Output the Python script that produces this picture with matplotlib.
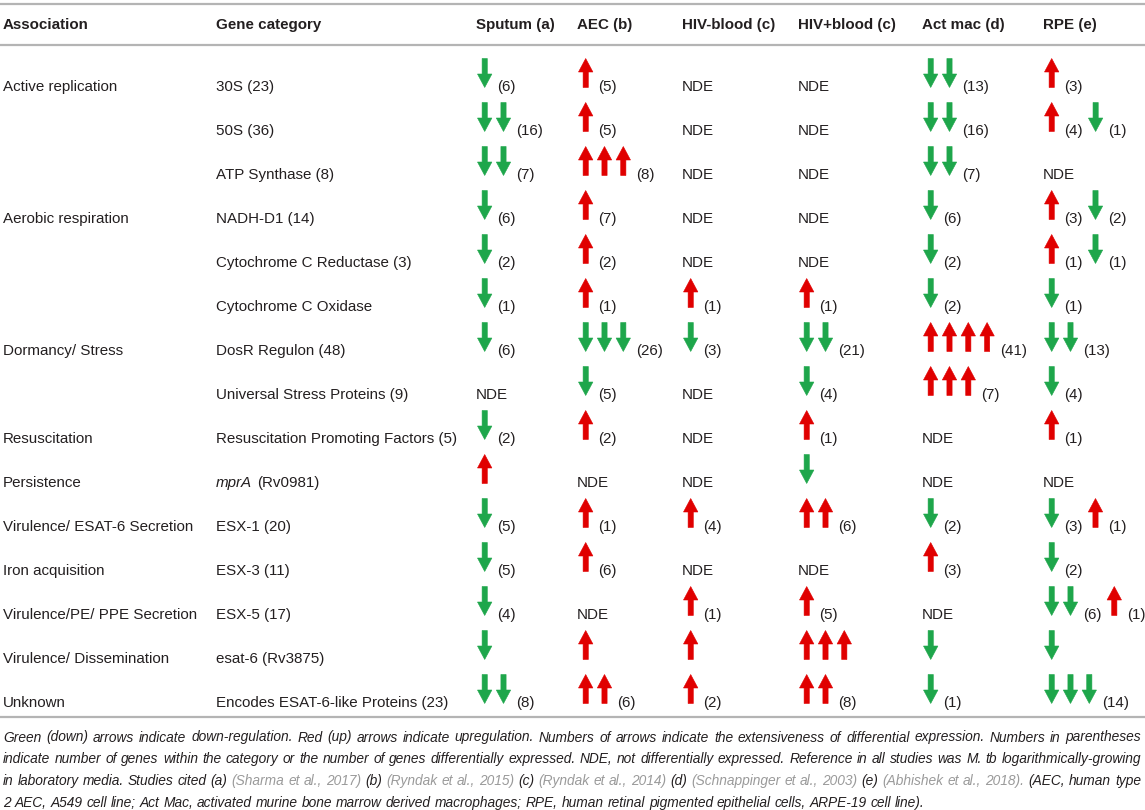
import matplotlib
matplotlib.use("Agg")
import matplotlib.pyplot as plt
from matplotlib.patches import Polygon
from matplotlib import font_manager

# ---------------- data ----------------
headers = ["Association", "Gene category", "Sputum (a)", "AEC (b)", "HIV-blood (c)",
           "HIV+blood (c)", "Act mac (d)", "RPE (e)"]

associations = ["Active replication", "", "", "Aerobic respiration", "", "",
                "Dormancy/ Stress", "", "Resuscitation", "Persistence",
                "Virulence/ ESAT-6 Secretion", "Iron acquisition",
                "Virulence/PE/ PPE Secretion", "Virulence/ Dissemination", "Unknown"]

gene_categories = ["30S (23)", "50S (36)", "ATP Synthase (8)", "NADH-D1 (14)",
                   "Cytochrome C Reductase (3)", "Cytochrome C Oxidase", "DosR Regulon (48)",
                   "Universal Stress Proteins (9)", "Resuscitation Promoting Factors (5)",
                   "mprA (Rv0981)", "ESX-1 (20)", "ESX-3 (11)", "ESX-5 (17)",
                   "esat-6 (Rv3875)", "Encodes ESAT-6-like Proteins (23)"]
gene_italic_part = ["", "", "", "", "", "", "", "", "", "mprA", "", "", "", "", ""]

# U = up (red), D = down (green); digit = number of arrows; (n) = genes
sputum = ["D1 (6)", "D2 (16)", "D2 (7)", "D1 (6)", "D1 (2)", "D1 (1)", "D1 (6)", "NDE",
          "D1 (2)", "U1", "D1 (5)", "D1 (5)", "D1 (4)", "D1", "D2 (8)"]
aec = ["U1 (5)", "U1 (5)", "U3 (8)", "U1 (7)", "U1 (2)", "U1 (1)", "D3 (26)", "D1 (5)",
       "U1 (2)", "NDE", "U1 (1)", "U1 (6)", "NDE", "U1", "U2 (6)"]
hiv_neg_blood = ["NDE", "NDE", "NDE", "NDE", "NDE", "U1 (1)", "D1 (3)", "NDE", "NDE", "NDE",
                 "U1 (4)", "NDE", "U1 (1)", "U1", "U1 (2)"]
hiv_pos_blood = ["NDE", "NDE", "NDE", "NDE", "NDE", "U1 (1)", "D2 (21)", "D1 (4)", "U1 (1)",
                 "D1", "U2 (6)", "NDE", "U1 (5)", "U3", "U2 (8)"]
act_mac = ["D2 (13)", "D2 (16)", "D2 (7)", "D1 (6)", "D1 (2)", "D1 (2)", "U4 (41)", "U3 (7)",
           "NDE", "NDE", "D1 (2)", "U1 (3)", "NDE", "D1", "D1 (1)"]
rpe = ["U1 (3)", "U1 (4) D1 (1)", "NDE", "U1 (3) D1 (2)", "U1 (1) D1 (1)", "D1 (1)",
       "D2 (13)", "D1 (4)", "U1 (1)", "NDE", "D1 (3) U1 (1)", "D1 (2)", "D2 (6) U1 (1)",
       "D1", "D3 (14)"]
columns = [sputum, aec, hiv_neg_blood, hiv_pos_blood, act_mac, rpe]

footnote_lines = [
    [("Green (down) arrows indicate down-regulation. Red (up) arrows indicate upregulation. "
      "Numbers of arrows indicate the extensiveness of differential expression. Numbers in parentheses", "d")],
    [("indicate number of genes within the category or the number of genes differentially expressed. "
      "NDE, not differentially expressed. Reference in all studies was M. tb logarithmically-growing", "d")],
    [("in laboratory media. Studies cited (a)", "d"), ("(Sharma et al., 2017)", "l"), ("(b)", "d"),
     ("(Ryndak et al., 2015)", "l"), ("(c)", "d"), ("(Ryndak et al., 2014)", "l"), ("(d)", "d"),
     ("(Schnappinger et al., 2003)", "l"), ("(e)", "d"), ("(Abhishek et al., 2018).", "l"),
     ("(AEC, human type", "d")],
    [("2 AEC, A549 cell line; Act Mac, activated murine bone marrow derived macrophages; RPE, "
      "human retinal pigmented epithelial cells, ARPE-19 cell line).", "d")],
]

# ---------------- style / layout ----------------
def has_font(name):
    try:
        font_manager.findfont(font_manager.FontProperties(family=name), fallback_to_default=False)
        return True
    except Exception:
        return False

BODY_FONT = "Liberation Sans" if has_font("Liberation Sans") else "DejaVu Sans"
NARROW_FONT = "Liberation Sans Narrow" if has_font("Liberation Sans Narrow") else BODY_FONT
FS = 10.9
TXT = "#231f20"
LIGHT = "#9a9a9a"
GREEN = "#1ea64b"
RED = "#e00000"
RULE = "#b4b4b4"

W, H = 1145, 810
fig = plt.figure(figsize=(W / 100, H / 100), dpi=100)
ax = fig.add_axes([0, 0, 1, 1])
ax.set_xlim(0, W)
ax.set_ylim(H, 0)
ax.axis("off")
renderer = fig.canvas.get_renderer()

col_x = [3, 216, 476, 577, 682, 798, 922, 1043]
row0, row_dy = 85.0, 44.0
base_off = 5.6  # baseline below cap-centre

def text_width(s, **kw):
    t = ax.text(0, 0, s, **kw)
    bb = t.get_window_extent(renderer)
    t.remove()
    return bb.width

# rules
for y in (4, 45, 717):
    ax.plot([0, W], [y, y], color=RULE, lw=1.6, solid_capstyle="butt")

# header
for x, h in zip(col_x, headers):
    ax.text(x, 23.5 + base_off, h, fontsize=FS, fontweight="bold", family=BODY_FONT,
            color=TXT, va="baseline", ha="left")

def arrow(cx, yc, up, color):
    top, bot = yc - 26.5, yc + 2.5
    sw, hw, hl = 2.6, 7.2, 13.5
    if up:
        pts = [(cx, top), (cx + hw, top + hl), (cx + sw, top + hl), (cx + sw, bot),
               (cx - sw, bot), (cx - sw, top + hl), (cx - hw, top + hl)]
    else:
        pts = [(cx, bot), (cx + hw, bot - hl), (cx + sw, bot - hl), (cx + sw, top),
               (cx - sw, top), (cx - sw, bot - hl), (cx - hw, bot - hl)]
    ax.add_patch(Polygon(pts, closed=True, facecolor=color, edgecolor=color, lw=0.4))

for i in range(len(gene_categories)):
    yc = row0 + i * row_dy
    yb = yc + base_off
    ax.text(col_x[0], yb, associations[i], fontsize=FS, family=BODY_FONT, color=TXT, va="baseline")
    g = gene_categories[i]
    it = gene_italic_part[i]
    if it:
        ax.text(col_x[1], yb, it, fontsize=FS, family=BODY_FONT, style="italic", color=TXT, va="baseline")
        w = text_width(it, fontsize=FS, family=BODY_FONT, style="italic")
        ax.text(col_x[1] + w + 4.5, yb, g[len(it):].strip(), fontsize=FS, family=BODY_FONT,
                color=TXT, va="baseline")
    else:
        ax.text(col_x[1], yb, g, fontsize=FS, family=BODY_FONT, color=TXT, va="baseline")

    for j, col in enumerate(columns):
        cell = col[i]
        x0 = col_x[2 + j]
        if cell == "NDE":
            ax.text(x0, yb, "NDE", fontsize=FS, family=BODY_FONT, color=TXT, va="baseline")
            continue
        toks = cell.split()
        cx = x0 + 8.7
        for tok in toks:
            if tok[0] in "UD":
                up = tok[0] == "U"
                n = int(tok[1:])
                for k in range(n):
                    arrow(cx, yc, up, RED if up else GREEN)
                    last = cx
                    cx += 18.8
                cx = last
            else:
                lx = cx + 12.8
                ax.text(lx, yb, tok, fontsize=FS, family=BODY_FONT, color=TXT, va="baseline")
                w = text_width(tok, fontsize=FS, family=BODY_FONT)
                cx = lx + w + 12.5

# footnote (justified)
fn_base = [741.5, 763.3, 785.0, 806.7]
left, right = 3, 1141
fkw = dict(family=NARROW_FONT, style="italic")
plain1 = " ".join(s for s, _ in footnote_lines[0])
fsz = FS
w1 = text_width(plain1, fontsize=fsz, **fkw)
if w1 > (right - left) * 0.995:
    fsz = fsz * (right - left) * 0.985 / w1
for li, segs in enumerate(footnote_lines):
    words = []
    for s, c in segs:
        for wd in s.split():
            words.append((wd, TXT if c == "d" else LIGHT))
    widths = [text_width(wd, fontsize=fsz, **fkw) for wd, _ in words]
    space = text_width("a a", fontsize=fsz, **fkw) - 2 * text_width("a", fontsize=fsz, **fkw)
    if li < len(footnote_lines) - 1:
        gap = (right - left - sum(widths)) / (len(words) - 1)
    else:
        gap = space
    x = left
    for (wd, c), w in zip(words, widths):
        ax.text(x, fn_base[li], wd, fontsize=fsz, color=c, va="baseline", **fkw)
        x += w + gap

fig.savefig("out.png", dpi=100)
